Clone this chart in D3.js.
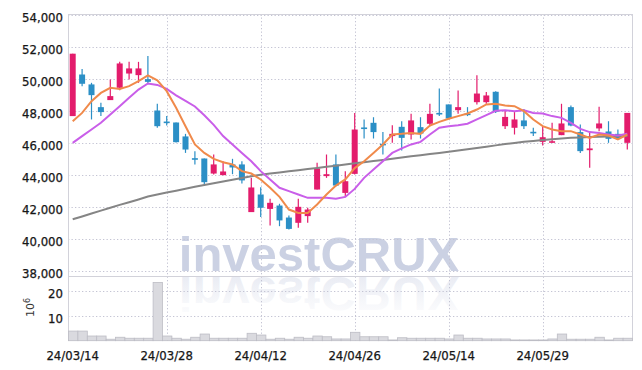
<!DOCTYPE html>
<html>
<head>
<meta charset="utf-8">
<script src="https://cdn.jsdelivr.net/npm/d3@7"></script>
<style>
  body { margin: 0; background: #fff; }
  svg { display: block; }
  .lbl { font-family: "DejaVu Sans Condensed", "Liberation Sans Narrow", sans-serif; font-size: 13px; fill: #161616; stroke: #161616; stroke-width: 0.25px; }
</style>
</head>
<body>
<svg id="chart" width="642" height="370"></svg>
<script>
// trading days (yy/mm/dd)
const dates = [
  "24/03/14","24/03/15","24/03/18","24/03/19","24/03/20","24/03/21","24/03/22","24/03/25","24/03/26","24/03/27",
  "24/03/28","24/03/29","24/04/01","24/04/02","24/04/03","24/04/04","24/04/05","24/04/08","24/04/09","24/04/11",
  "24/04/12","24/04/15","24/04/16","24/04/17","24/04/18","24/04/19","24/04/22","24/04/23","24/04/24","24/04/25",
  "24/04/26","24/04/29","24/04/30","24/05/02","24/05/03","24/05/07","24/05/08","24/05/09","24/05/10","24/05/13",
  "24/05/14","24/05/16","24/05/17","24/05/20","24/05/21","24/05/22","24/05/23","24/05/24","24/05/27","24/05/28",
  "24/05/29","24/05/30","24/05/31","24/06/03","24/06/04","24/06/05","24/06/07","24/06/10","24/06/11","24/06/12"
];

const open = [
  47650,50250,49630,48210,48650,49420,50310,50210,49960,48000,
  47310,47250,46380,45020,45000,44060,43960,44630,44630,41650,
  42750,41850,42060,41310,40980,41400,43060,43900,44630,42850,
  44040,46940,47230,45920,46400,46980,46500,46960,47170,47850,
  48380,48020,47810,48520,48520,49170,47020,46920,47380,46670,
  46040,46000,46460,48210,46650,45520,46880,46690,46540,45980
];
const high = [
  51550,50600,49730,48480,49940,51040,51040,51040,51400,48420,
  47650,47250,46540,45460,45000,45250,44830,44980,44830,43790,
  43210,42480,42170,41440,42480,41920,44730,45250,45250,44210,
  47850,47440,47580,46650,47080,47330,47790,47580,48420,49380,
  48380,49250,48210,50210,49150,49210,48020,47900,48100,46920,
  47020,47230,48420,48310,47130,46600,48230,47330,46810,47850
];
const low = [
  47650,49520,47440,47650,48650,49270,49940,49730,49670,46920,
  47060,46000,45350,44630,43380,44000,43960,44020,43440,41650,
  41350,40810,40770,40560,40670,40980,43060,43790,43270,42600,
  44000,46250,46250,45250,45980,45500,46190,46250,47020,47650,
  47500,47790,47650,48380,48420,47850,46850,46500,46850,46400,
  45810,45980,46460,47020,45350,44420,46710,45980,46150,45560
];
const close = [
  51550,49670,48960,47900,48900,50940,50630,50630,49790,47020,
  47210,46020,45560,44980,43520,44630,44190,44440,43630,43190,
  41920,42230,41130,40600,41980,41810,44380,44020,43310,43580,
  46810,46900,46650,45880,46540,46290,47380,46560,47790,47750,
  47500,48210,47770,49060,48940,47920,47600,47440,47020,46630,
  46330,46080,47190,47060,45460,45630,47190,46230,46230,47850
];

// volume, millions of shares
const volume = [
  3.9,3.9,1.9,1.9,0.6,1.4,1.0,1.0,1.0,23.6,
  1.9,1.0,0.6,1.4,2.7,1.0,1.0,1.0,1.0,3.0,
  2.3,0.6,1.0,0.6,1.4,1.0,1.9,1.6,0.7,0.7,
  3.4,1.6,1.6,1.6,0.3,1.2,1.0,1.0,1.0,1.0,
  0.7,2.3,1.0,1.0,0.7,0.7,0.7,0.3,0.3,0.3,
  0.3,0.7,2.7,0.6,0.6,0.6,1.4,0.3,1.0,1.0
];

// moving averages
const maShort = [
  47330,47850,48580,49100,49420,49350,49520,49830,50190,49880,
  49210,48170,47020,45880,45350,44980,44770,44630,44210,44060,
  43690,43170,42600,41810,41600,41600,42130,42750,43310,43690,
  44400,44830,45350,45880,46500,46540,46600,46540,47060,47290,
  47480,47650,47810,48060,48380,48420,48310,48270,47960,47440,
  47020,46810,46710,46710,46500,46290,46500,46440,46190,46500
];
const maMid = [
  45980,46400,46810,47230,47750,48270,48790,49310,49690,49600,
  49350,48950,48600,48250,47700,47100,46400,45880,45350,44830,
  44210,43690,43170,42960,42750,42540,42540,42540,42480,42600,
  43100,43790,44310,44830,45350,45630,45880,46040,46500,46920,
  47020,47080,47170,47440,47710,47980,48020,47960,48020,47850,
  47810,47650,47540,47230,46850,46650,46600,46500,46440,46540
];
const maLong = [
  41200,41380,41560,41740,41920,42100,42270,42440,42620,42750,
  42870,42990,43110,43230,43340,43450,43560,43670,43780,43890,
  43990,44060,44130,44200,44270,44340,44410,44480,44550,44620,
  44700,44770,44840,44910,44980,45060,45140,45210,45280,45350,
  45420,45500,45580,45660,45740,45820,45900,45970,46040,46100,
  46160,46210,46250,46290,46320,46340,46360,46380,46390,46400
];

const priceTicks = [38000,40000,42000,44000,46000,48000,50000,52000,54000];
const volTicks = [10, 20];
const dateTicks = ["24/03/14","24/03/28","24/04/12","24/04/26","24/05/14","24/05/29"];

const upColor = "#e31c6c";
const downColor = "#2b8fc6";
const gridColor = "#c4c4d4";

const svg = d3.select("#chart");
const plotL = 68, plotR = 632, plotT = 14, split = 276, plotB = 341;

const x = d3.scaleBand().domain(dates).range([plotL, plotR]);
const cx = d => x(d) + x.bandwidth() / 2;
const y = d3.scaleLinear().domain([38000, 54000]).range([270.5, 14.5]);
const yv = d3.scaleLinear().domain([0, 20]).range([340.7, 291.3]);

const defs = svg.append("defs");
const grad = defs.append("linearGradient")
  .attr("id", "fade").attr("x1", 0).attr("y1", 0).attr("x2", 0).attr("y2", 1);
grad.append("stop").attr("offset", "0%").attr("stop-color", "#cbd1e3").attr("stop-opacity", 0);
grad.append("stop").attr("offset", "100%").attr("stop-color", "#cbd1e3").attr("stop-opacity", 0.5);

// watermark + reflection
const wm = svg.append("g").attr("font-family", "Liberation Sans, Arial, sans-serif")
  .attr("font-weight", "bold").attr("font-size", 49).attr("text-anchor", "middle");
wm.append("text").attr("x", 319).attr("y", 271).attr("fill", "#cbd1e3").text("investCRUX");
wm.append("g").attr("transform", `translate(0,${2 * 274}) scale(1,-1)`)
  .append("text").attr("x", 319).attr("y", 271).attr("fill", "url(#fade)").text("investCRUX");

// grid
const grid = svg.append("g").attr("stroke", gridColor).attr("stroke-dasharray", "1.3,2.2");
grid.selectAll(".hg").data(priceTicks).join("line")
  .attr("x1", plotL).attr("x2", plotR)
  .attr("y1", d => Math.round(y(d)) + 0.5).attr("y2", d => Math.round(y(d)) + 0.5);
grid.selectAll(".vg").data(volTicks).join("line")
  .attr("x1", plotL).attr("x2", plotR)
  .attr("y1", d => Math.round(yv(d)) + 0.5).attr("y2", d => Math.round(yv(d)) + 0.5);
grid.selectAll(".xg").data(dateTicks.slice(1)).join("line")
  .attr("x1", d => Math.round(cx(d)) + 0.5).attr("x2", d => Math.round(cx(d)) + 0.5)
  .attr("y1", plotT).attr("y2", plotB);

// frame
const frame = svg.append("g").attr("stroke", "#d2d2da").attr("stroke-width", 1);
frame.append("line").attr("x1", plotL).attr("x2", plotR).attr("y1", plotT + 0.5).attr("y2", plotT + 0.5);
frame.append("line").attr("x1", plotL).attr("x2", plotR).attr("y1", split + 0.5).attr("y2", split + 0.5);
frame.append("line").attr("x1", plotL + 0.5).attr("x2", plotL + 0.5).attr("y1", plotT).attr("y2", plotB);
frame.append("line").attr("x1", plotR + 0.5).attr("x2", plotR + 0.5).attr("y1", plotT).attr("y2", plotB);

// volume bars
svg.append("g").selectAll("rect").data(dates).join("rect")
  .attr("x", d => x(d) + 0.5)
  .attr("y", (d, i) => yv(volume[i]))
  .attr("width", x.bandwidth())
  .attr("height", (d, i) => yv(0) - yv(volume[i]))
  .attr("fill", "#dadadf")
  .attr("stroke", "#bdbdc5")
  .attr("stroke-width", 0.8);

// candles
const candles = svg.append("g").selectAll("g").data(dates).join("g")
  .attr("fill", (d, i) => close[i] >= open[i] ? upColor : downColor)
  .attr("stroke", (d, i) => close[i] >= open[i] ? upColor : downColor);
candles.append("line")
  .attr("x1", d => cx(d)).attr("x2", d => cx(d))
  .attr("y1", (d, i) => y(high[i])).attr("y2", (d, i) => y(low[i]))
  .attr("stroke-width", 1.2);
candles.append("rect")
  .attr("x", d => cx(d) - 3)
  .attr("width", 6)
  .attr("y", (d, i) => y(Math.max(open[i], close[i])))
  .attr("height", (d, i) => Math.max(1.6, Math.abs(y(open[i]) - y(close[i]))))
  .attr("stroke", "none");

// moving averages
const line = vals => d3.line().x(d => cx(d)).y((d, i) => y(vals[i]))(dates);
svg.append("path").attr("d", line(maLong)).attr("fill", "none").attr("stroke", "#858585").attr("stroke-width", 2);
svg.append("path").attr("d", line(maMid)).attr("fill", "none").attr("stroke", "#c95ee9").attr("stroke-width", 2);
svg.append("path").attr("d", line(maShort)).attr("fill", "none").attr("stroke", "#f08a4b").attr("stroke-width", 2);

// axes
const yAxis = svg.append("g").attr("transform", `translate(${plotL},0)`)
  .call(d3.axisLeft(y).tickValues(priceTicks).tickFormat(d3.format(",")).tickSize(0).tickPadding(5));
const vAxis = svg.append("g").attr("transform", `translate(${plotL},0)`)
  .call(d3.axisLeft(yv).tickValues(volTicks).tickSize(0).tickPadding(5));
const xAxis = svg.append("g").attr("transform", `translate(0,${plotB})`)
  .call(d3.axisBottom(x).tickValues(dateTicks).tickSize(0).tickPadding(5));
[yAxis, vAxis, xAxis].forEach(a => {
  a.select(".domain").remove();
  a.selectAll("text").attr("class", "lbl").attr("font-family", null).attr("font-size", null);
});
yAxis.selectAll("text").attr("dy", "0.5em");
vAxis.selectAll("text").attr("dy", "0.5em");
xAxis.selectAll("text").attr("dy", "1.05em");

// unit label 10^6
const unit = svg.append("text").attr("transform", "translate(33.5,317) rotate(-90)")
  .attr("font-family", "DejaVu Sans, sans-serif").attr("font-size", 11).attr("fill", "#333");
unit.append("tspan").text("10");
unit.append("tspan").attr("font-size", 8).attr("dy", -4).text("6");
</script>
</body>
</html>
